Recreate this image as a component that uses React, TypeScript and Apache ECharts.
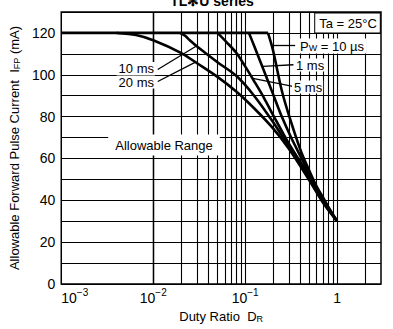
import React, { useEffect, useRef } from 'react';
import * as echarts from 'echarts';

// Vertical grid positions (duty ratio)
const gridX = [
  0.002, 0.003, 0.004, 0.005, 0.006, 0.007, 0.008, 0.009, 0.01,
  0.02, 0.03, 0.04, 0.05, 0.06, 0.07, 0.08, 0.09, 0.1,
  0.2, 0.3, 0.4, 0.5, 0.6, 0.7, 0.8, 0.9, 1, 2,
];
const yTickLabels = [0, 20, 40, 60, 80, 100, 120];

// Flat 120 mA region
const flatDR = [0.001, 0.177];
const flatIFP = [120, 120];

// Curves: duty ratio / allowable forward pulse current (mA)
const dr20ms = [0.004, 0.0065, 0.01, 0.02, 0.03, 0.05, 0.08, 0.125, 0.2, 0.3, 0.5, 0.7, 1];
const ifp20ms = [120, 119, 116.5, 110.5, 105.5, 99, 92, 84, 74.5, 64.5, 49.5, 39, 30];

const dr10ms = [0.0195, 0.0224, 0.025, 0.03, 0.05, 0.08, 0.125, 0.2, 0.3, 0.5, 0.7, 1];
const ifp10ms = [120, 118.5, 116.5, 113.5, 106, 99.5, 90, 77.5, 65.5, 50.5, 39.5, 30];

const dr5ms = [0.05, 0.063, 0.08, 0.1, 0.125, 0.16, 0.2, 0.3, 0.5, 0.7, 1];
const ifp5ms = [120, 115.5, 110.5, 104, 97, 89, 81, 67, 51.5, 40, 30];

const dr1ms = [0.11, 0.126, 0.158, 0.2, 0.25, 0.316, 0.4, 0.5, 0.7, 1];
const ifp1ms = [120, 113.5, 102.5, 91, 80, 70, 61, 52.5, 40.5, 30];

const dr10us = [0.177, 0.2, 0.25, 0.3, 0.4, 0.5, 0.6, 0.7, 0.85, 1];
const ifp10us = [120, 112, 92.5, 80.5, 64, 54, 46.5, 41.5, 35, 30];

// Arrow pointers: [from, to] in data coordinates
const arrows: [number[], number[]][] = [
  [[0.35, 114], [0.196, 114]],
  [[0.335, 104.8], [0.156, 104]],
  [[0.33, 94.4], [0.121, 98.3]],
  [[0.0112, 102.5], [0.0292, 113.6]],
  [[0.0112, 96.8], [0.0285, 105.9]],
];

const FONT = '"Liberation Sans", Arial, Helvetica, sans-serif';

const zip = (xs: number[], ys: number[]) => xs.map((x, i) => [x, ys[i]]);

export default function App() {
  const ref = useRef<HTMLDivElement>(null);
  useEffect(() => {
    if (!ref.current) return;
    const chart = echarts.init(ref.current, null, { renderer: 'svg' });
    const curveStyle = { color: '#000', width: 2.6 };
    const curve = (name: string, xs: number[], ys: number[]) => ({
      name,
      type: 'line',
      data: zip(xs, ys),
      showSymbol: false,
      smooth: 0.3,
      lineStyle: curveStyle,
      z: 5,
      silent: true,
    });
    const label = (text: string, x: number, y: number, align: string, extra: any = {}) => ({
      type: 'text',
      x,
      y,
      z: 100,
      style: {
        text,
        font: '13px ' + FONT,
        fill: '#000',
        align,
        verticalAlign: 'middle',
        backgroundColor: '#fff',
        lineHeight: 13,
        padding: [0, 1, 0, 2],
        ...extra,
      },
    });
    chart.setOption({
      animation: false,
      grid: {
        left: 58,
        right: 12,
        top: 12,
        bottom: 45,
        show: true,
        borderColor: '#000',
        borderWidth: 1.5,
        backgroundColor: '#fff',
      },
      xAxis: {
        type: 'log',
        logBase: 10,
        min: 0.001,
        max: 3,
        axisLine: { show: false },
        axisTick: { show: false },
        splitLine: { show: false },
        name: 'Duty Ratio  D{s|R}',
        nameLocation: 'middle',
        nameGap: 26,
        nameTextStyle: {
          fontFamily: FONT,
          fontSize: 13,
          color: '#000',
          rich: {
            s: { fontFamily: FONT, fontSize: 9, color: '#000', verticalAlign: 'bottom', lineHeight: 13 },
          },
        },
        axisLabel: {
          margin: 3,
          showMaxLabel: false,
          alignMinLabel: 'left',
          fontFamily: FONT,
          color: '#000',
          formatter: (v: number) => {
            const l = Math.log10(v);
            const e = Math.round(l);
            if (Math.abs(l - e) > 1e-6) return '';
            if (e === 0) return '{b|1}';
            return '{b|10}{sup|−' + -e + '}';
          },
          rich: {
            b: { fontFamily: FONT, fontSize: 14, color: '#000', lineHeight: 18, verticalAlign: 'bottom' },
            sup: { fontFamily: FONT, fontSize: 10, color: '#000', lineHeight: 9, verticalAlign: 'top' },
          },
        },
      },
      yAxis: {
        type: 'value',
        min: 0,
        max: 130,
        interval: 10,
        axisLine: { show: false },
        axisTick: { show: false },
        splitLine: { show: true, lineStyle: { color: '#000', width: 1 } },
        axisLabel: {
          margin: 6,
          fontFamily: FONT,
          fontSize: 14,
          color: '#000',
          formatter: (v: number) => (yTickLabels.indexOf(v) >= 0 ? String(v) : ''),
        },
        name: 'Allowable Forward Pulse Current  I{s|FP} (mA)',
        nameLocation: 'middle',
        nameGap: 38,
        nameTextStyle: {
          fontFamily: FONT,
          fontSize: 13,
          color: '#000',
          rich: {
            s: { fontFamily: FONT, fontSize: 9, color: '#000', verticalAlign: 'bottom', lineHeight: 13 },
          },
        },
      },
      series: [
        {
          name: 'flat',
          type: 'line',
          data: zip(flatDR, flatIFP),
          showSymbol: false,
          lineStyle: curveStyle,
          z: 5,
          silent: true,
          markLine: {
            silent: true,
            symbol: ['none', 'none'],
            label: { show: false },
            lineStyle: { color: '#000', width: 1.1, type: 'solid' },
            data: gridX.map((v) => ({ xAxis: v })),
            z: 1,
          },
        },
        curve('20 ms', dr20ms, ifp20ms),
        curve('10 ms', dr10ms, ifp10ms),
        curve('5 ms', dr5ms, ifp5ms),
        curve('1 ms', dr1ms, ifp1ms),
        curve('10 µs', dr10us, ifp10us),
        {
          name: 'arrows',
          type: 'line',
          data: [],
          silent: true,
          z: 6,
          markLine: {
            silent: true,
            symbol: ['none', 'arrow'],
            symbolSize: [0, 7],
            label: { show: false },
            lineStyle: { color: '#000', width: 1.3, type: 'solid' },
            itemStyle: { color: '#000' },
            data: arrows.map(([a, b]) => [{ coord: a }, { coord: b }]),
          },
        },
      ],
      graphic: [
        {
          type: 'text',
          x: 212,
          y: 8,
          z: 100,
          style: {
            text: 'TL✻U series',
            font: 'bold 14px ' + FONT,
            fill: '#000',
            align: 'center',
            verticalAlign: 'bottom',
          },
        },
        label('Ta = 25°C', 347.5, 23, 'center', {
          borderColor: '#000',
          borderWidth: 1,
          padding: [3, 3, 2, 4],
          lineHeight: 14,
        }),
        label('Allowable Range', 164, 145, 'center', { padding: [4, 7, 4, 7] }),
        label('P{s|W} = 10 µs', 298, 46, 'left', {
          padding: [1, 2, 1, 2],
          rich: {
            s: { fontSize: 9, fontFamily: FONT, fill: '#000', verticalAlign: 'bottom', lineHeight: 13 },
          },
        }),
        label('1 ms', 294, 65, 'left'),
        label('5 ms', 292, 87, 'left'),
        label('10 ms', 155, 68.5, 'right'),
        label('20 ms', 155, 82, 'right'),
      ],
    });
    return () => chart.dispose();
  }, []);
  return (
    <div
      ref={ref}
      style={{ position: 'fixed', left: 0, top: 0, width: 393, height: 329, background: '#fff' }}
    />
  );
}
